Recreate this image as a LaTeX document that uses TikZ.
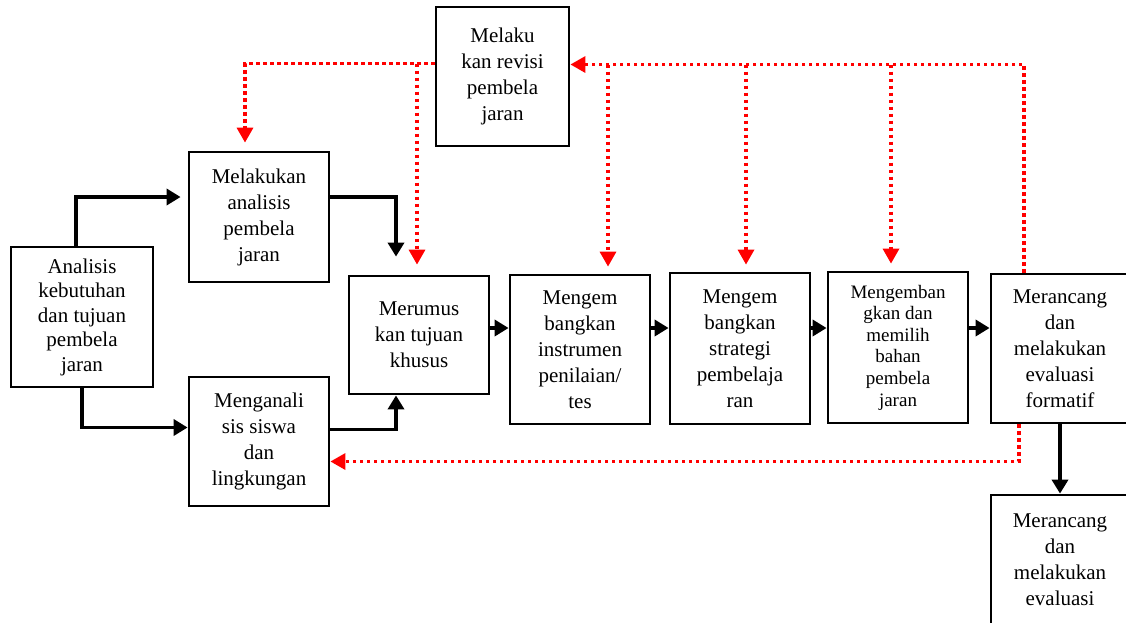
\documentclass[tikz,border=0pt]{standalone}
\usepackage{fontspec}
\setmainfont{Liberation Serif}
\usetikzlibrary{arrows.meta}

\begin{document}
\begin{tikzpicture}[x=1pt,y=-1pt,
    box/.style={draw,line width=2.8pt,align=center,inner sep=0pt,
      minimum width=140pt,font=\fontsize{21}{26}\selectfont},
    arr/.style={line width=3.8pt,-{Triangle[length=14pt,width=16pt]}},
    revarr/.style={red,line width=3.3pt,dash pattern=on 3.6pt off 3.4pt,
      -{Triangle[length=15pt,width=16pt]}}]
  \useasboundingbox (0,0) rectangle (1126,622);
  \node[box,minimum width=142pt,minimum height=140pt,
    font=\fontsize{21}{24.5}\selectfont] (kebutuhan) at (82,317)
    {Analisis\\kebutuhan\\dan tujuan\\pembela\\jaran};
  \node[box,minimum height=130pt] (analisis) at (259,217)
    {Melakukan\\analisis\\pembela\\jaran};
  \node[box,minimum height=129pt] (siswa) at (259,441.5)
    {Menganali\\sis siswa\\dan\\lingkungan};
  \node[box,minimum height=118pt] (rumus) at (419,335)
    {Merumus\\kan tujuan\\khusus};
  \node[box,minimum height=149pt] (instrumen) at (580,349.5)
    {Mengem\\bangkan\\instrumen\\penilaian/\\tes};
  \node[box,minimum height=151pt] (strategi) at (740,348.5)
    {Mengem\\bangkan\\strategi\\pembelaja\\ran};
  \node[box,minimum height=151pt,font=\fontsize{19}{21.6}\selectfont]
    (bahan) at (898,347.5)
    {Mengemban\\gkan dan\\memilih\\bahan\\pembela\\jaran};
  \node[box,minimum width=138pt,minimum height=149pt] (formatif) at (1060,348.5)
    {Merancang\\dan\\melakukan\\evaluasi\\formatif};
  \node[box,minimum width=138pt,minimum height=130pt] (evaluasi) at (1060,560)
    {Merancang\\dan\\melakukan\\evaluasi};
  \node[box,minimum width=133pt,minimum height=139pt] (revisi) at (502.5,76.5)
    {Melaku\\kan revisi\\pembela\\jaran};

  \draw[arr,shorten >=7pt] ([xshift=-6pt]kebutuhan.north) |- ([yshift=20pt]analisis.west);
  \draw[arr] (kebutuhan.south) |- ([yshift=14pt]siswa.west);
  \draw[arr,shorten >=18pt] ([yshift=20pt]analisis.east) -| ([xshift=-23pt]rumus.north);
  \draw[arr] ([yshift=12pt]siswa.east) -| ([xshift=-23pt]rumus.south);
  \coordinate (baris) at (0,328);
  \foreach \a/\b in {rumus/instrumen,instrumen/strategi,strategi/bahan,bahan/formatif}
    \draw[arr] (\a.east |- baris) -- (\b.west |- baris);
  \draw[arr] (formatif.south) -- (evaluasi.north);

  \coordinate (revkiri) at ([yshift=13pt]revisi.west);
  \coordinate (revkanan) at ([yshift=12pt]revisi.east);
  \draw[revarr,shorten >=8pt] (revkiri) -| ([xshift=-14pt]analisis.north);
  \draw[revarr,shorten >=10pt] ([xshift=-2pt]rumus.north |- revkiri) -- ([xshift=-2pt]rumus.north);
  \draw[revarr] ([xshift=-36pt]formatif.north) |- (revkanan);
  \foreach \n/\d in {instrumen/28,strategi/6,bahan/-7}
    \draw[revarr,shorten >=7pt] ([xshift=\d pt]\n.north |- revkanan) -- ([xshift=\d pt]\n.north);
  \draw[revarr] ([xshift=-41pt]formatif.south) |- ([yshift=-20pt]siswa.east);
\end{tikzpicture}
\end{document}
